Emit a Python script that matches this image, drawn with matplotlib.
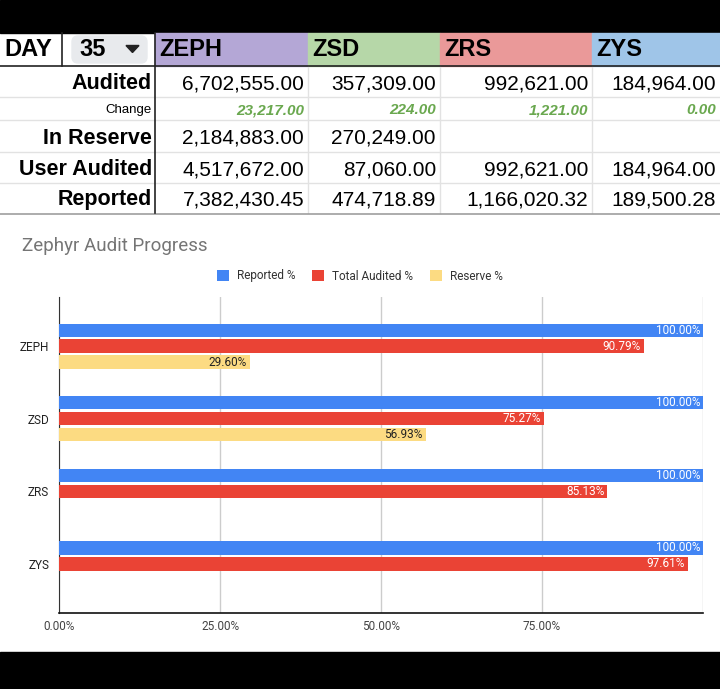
import matplotlib.pyplot as plt
from matplotlib.patches import Rectangle, FancyBboxPatch
import numpy as np

# datos de la hoja
coins = ['ZEPH', 'ZSD', 'ZRS', 'ZYS']
audited = [6702555.00, 357309.00, 992621.00, 184964.00]
change = [23217.00, 224.00, 1221.00, 0.00]
in_reserve = [2184883.00, 270249.00, None, None]
user_audited = [4517672.00, 87060.00, 992621.00, 184964.00]
reported = [7382430.45, 474718.89, 1166020.32, 189500.28]
day = 35

# porcentajes de la grafica (sale de la tabla)
reported_pct = [100.0 * r / r for r in reported]
audited_pct = [100.0 * a / r for a, r in zip(audited, reported)]
reserve_pct = [100.0 * v / r if v is not None else 0 for v, r in zip(in_reserve, reported)]

tick_vals = [0, 25, 50, 75, 100]
tick_labels = ['0.00%', '25.00%', '50.00%', '75.00%', '']

header_colors = ['#b4a7d6', '#b6d7a8', '#ea9999', '#9fc5e8']
blue, red, yellow = '#4285f4', '#ea4335', '#fcdb82'

fig = plt.figure(figsize=(7.2, 6.89), dpi=100)

# fondo en pixeles para la tabla y las bandas negras
bg = fig.add_axes([0, 0, 1, 1])
bg.set_xlim(0, 720)
bg.set_ylim(689, 0)
bg.axis('off')
bg.add_patch(Rectangle((0, 0), 720, 33, color='black'))
bg.add_patch(Rectangle((0, 652), 720, 37, color='black'))

col_edges = [155, 308, 440, 592, 720]
row_edges = [33, 66, 97, 120, 152, 183, 213]
tfont = 'Liberation Sans'

# cabecera
for i, c in enumerate(coins):
    bg.add_patch(Rectangle((col_edges[i], 33), col_edges[i + 1] - col_edges[i], 33,
                           color=header_colors[i], zorder=1))
    bg.text(col_edges[i] + 4, 50, c, fontsize=17, fontweight='bold', family=tfont,
            va='center', ha='left')
bg.text(4, 50, 'DAY', fontsize=17, fontweight='bold', family=tfont, va='center')
bg.add_patch(FancyBboxPatch((72, 36), 75, 27, boxstyle='round,pad=0,rounding_size=6',
                            color='#e8eaed', zorder=1))
bg.text(79, 50, str(day), fontsize=17, fontweight='bold', family=tfont, va='center')
bg.fill([126, 139, 132.5], [45.5, 45.5, 52.5], color='#222222', zorder=3)

# lineas
for y in row_edges[2:-1]:
    bg.plot([0, 720], [y, y], color='#e2e2e2', lw=1, zorder=2)
for x in col_edges[1:-1]:
    bg.plot([x, x], [66, 213], color='#e2e2e2', lw=1, zorder=2)
bg.plot([0, 720], [66, 66], color='#222222', lw=1.2, zorder=3)
bg.plot([0, 720], [213.5, 213.5], color='#9e9e9e', lw=1.2, zorder=3)
bg.plot([155, 155], [33, 213], color='#222222', lw=1.2, zorder=3)
bg.plot([62, 62], [33, 66], color='#222222', lw=1.2, zorder=3)

rows = [('Audited', audited), ('Change', change), ('In Reserve', in_reserve),
        ('User Audited', user_audited), ('Reported', reported)]
for r, (label, vals) in enumerate(rows):
    yc = (row_edges[r + 1] + row_edges[r + 2]) / 2 + 2
    small = label == 'Change'
    bg.text(152, yc, label, fontsize=9.5 if small else 15.5, fontweight='normal' if small else 'bold',
            family=tfont, ha='right', va='center')
    for i, v in enumerate(vals):
        if v is None:
            continue
        if small:
            bg.text(col_edges[i + 1] - 4, yc, f'{v:,.2f}', fontsize=11, fontweight='bold',
                    style='italic', color='#6aa84f', family=tfont, ha='right', va='center')
        else:
            bg.text(col_edges[i + 1] - 4, yc, f'{v:,.2f}', fontsize=15, family=tfont,
                    ha='right', va='center')

# grafica
fig.text(22 / 720, 1 - 246 / 689, 'Zephyr Audit Progress', fontsize=13.5, color='#757575',
         family='Roboto', va='center', ha='left')

ax = fig.add_axes([59 / 720, 1 - 613 / 689, 644 / 720, 316 / 689])
pos = np.arange(len(coins))
h = 0.18
off = 0.22
b1 = ax.barh(pos - off, reported_pct, height=h, color=blue, label='Reported %', zorder=3)
b2 = ax.barh(pos, audited_pct, height=h, color=red, label='Total Audited %', zorder=3)
b3 = ax.barh(pos + off, reserve_pct, height=h, color=yellow, label='Reserve %', zorder=3)

for bars, vals, tc in [(b1, reported_pct, 'white'), (b2, audited_pct, 'white'), (b3, reserve_pct, '#222222')]:
    for b, v in zip(bars, vals):
        if v == 0:
            continue
        ax.annotate(f'{v:.2f}%', (v, b.get_y() + b.get_height() / 2), xytext=(-2, 0),
                    textcoords='offset points', ha='right', va='center', fontsize=8.5,
                    color=tc, family='Roboto', zorder=4)

ax.set_xlim(0, 100)
ax.set_ylim(3.675, -0.675)
ax.set_yticks(pos)
ax.set_yticklabels(coins, family='Roboto', fontsize=8.5, color='#222222')
ax.set_xticks(tick_vals)
ax.set_xticklabels(tick_labels, family='Roboto', fontsize=8.5, color='#444444')
ax.tick_params(length=0, pad=7)
ax.tick_params(axis='x', pad=5)
ax.grid(axis='x', color='#cccccc', lw=1, zorder=0)
for s in ['top', 'right']:
    ax.spines[s].set_visible(False)
ax.spines['left'].set_color('#333333')
ax.spines['bottom'].set_color('#111111')
ax.spines['bottom'].set_linewidth(1.2)

fig.legend(handles=[b1, b2, b3], loc='center', bbox_to_anchor=(0.5, 1 - 276 / 689), ncol=3,
           frameon=False, prop={'family': 'Roboto', 'size': 8.5}, handlelength=1.0,
           handleheight=1.0, handletextpad=0.7, columnspacing=1.4, labelcolor='#333333')

fig.savefig('out.png', dpi=100)
